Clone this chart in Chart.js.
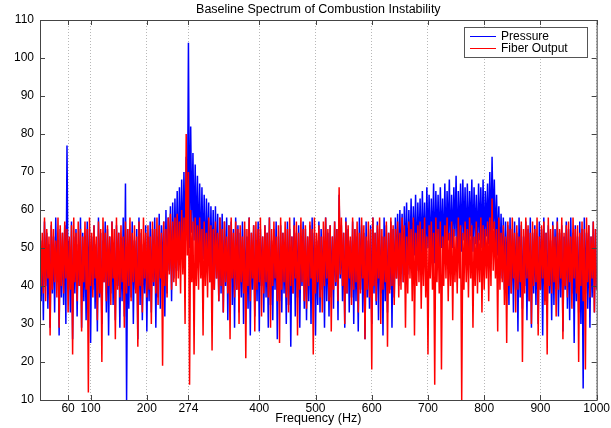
<!DOCTYPE html>
<html>
<head>
<meta charset="utf-8">
<script src="https://cdn.jsdelivr.net/npm/chart.js@4.4.1/dist/chart.umd.min.js"></script>
<style>
  html, body { margin: 0; padding: 0; background: #fff; }
  #wrap { position: relative; width: 611px; height: 428px; }
</style>
</head>
<body>
<div id="wrap"><canvas id="spectrum"></canvas></div>
<script>
// Chart data
const chartTitle = 'Baseline Spectrum of Combustion Instability';
const xLabel = 'Frequency (Hz)';
const seriesNames = ['Pressure', 'Fiber Output'];

// frequency bins: 10 Hz to 1000 Hz, every 2 Hz
const freqStart = 10;
const freqStep = 2;

const xTicks = [60, 100, 200, 274, 400, 500, 600, 700, 800, 900, 1000];
const yTicks = [10, 20, 30, 40, 50, 60, 70, 80, 90, 100, 110];

// Pressure amplitude (dB), one row = 40 Hz
const pressure = [
  55,36,52,31,57,40,54,34,51,29,56,38,53,33,58,41,52,27,55,37,
  54,35,56,30,77,39,52,33,57,26,53,38,55,32,51,40,58,29,54,36,
  52,31,57,38,55,25,53,39,56,34,51,28,58,37,54,30,52,41,57,33,
  55,27,53,38,57,35,51,31,56,40,54,29,52,36,58,32,67,10,55,34,
  53,37,57,30,52,39,55,26,58,35,54,31,51,38,56,28,53,36,57,33,
  55,40,58,29,53,37,59,34,56,41,57,32,60,38,58,44,61,36,62,42,
  63,46,65,44,66,48,68,47,70,50,74,52,104,50,82,54,75,52,72,50,
  69,48,67,45,66,47,64,43,63,46,62,41,61,44,60,39,61,42,59,36,
  58,38,59,33,57,40,58,31,56,37,57,35,55,29,58,39,56,33,54,37,
  57,30,55,38,53,34,58,27,54,39,56,32,52,36,57,28,55,40,53,33,
  56,37,54,29,58,35,52,31,55,39,57,26,53,36,56,33,54,38,51,30,
  57,35,55,24,53,38,58,32,54,37,56,29,52,40,57,34,55,31,53,36,
  56,30,58,38,54,27,52,35,57,33,55,39,53,29,58,36,54,32,56,37,
  53,34,57,40,55,31,64,42,56,36,54,29,58,38,55,33,52,37,57,30,
  55,36,53,28,58,39,56,33,54,26,57,37,52,34,56,30,58,38,54,35,
  57,31,55,38,53,27,58,36,56,33,54,39,57,29,55,37,58,42,59,40,
  60,44,59,41,61,46,62,43,60,47,63,45,61,48,64,44,62,49,63,46,
  65,48,62,45,66,50,64,47,63,49,67,46,65,51,64,48,66,50,63,47,
  67,49,65,52,68,48,64,50,66,53,69,47,65,51,67,49,68,52,66,48,
  67,50,65,53,68,49,66,51,64,48,67,52,66,50,68,49,65,53,67,51,
  70,52,74,55,68,50,64,48,61,45,59,42,58,39,57,41,56,35,58,38,
  55,33,57,39,54,28,58,37,56,34,53,40,57,31,55,36,58,29,54,38,
  56,35,53,30,57,39,55,27,58,36,54,33,56,38,52,31,57,35,55,40,
  58,32,54,37,56,28,53,39,57,34,55,31,58,38,54,25,56,36,53,33,
  57,30,55,13,58,38,54,34,56,29,53,37,57,33,55,39
];

// Fiber output amplitude (dB), same bins
const fiber = [
  56,40,54,38,58,36,55,42,53,27,57,39,55,41,52,37,58,29,56,40,
  54,38,57,42,55,33,53,39,56,22,58,41,54,36,57,40,55,28,53,41,
  57,39,55,12,58,40,54,37,56,42,53,31,57,38,55,20,58,41,54,36,
  56,40,53,35,57,42,55,26,58,39,54,37,56,41,53,29,57,38,55,40,
  58,36,54,41,56,38,53,24,57,40,55,33,58,42,54,37,56,39,53,30,
  57,41,55,38,58,35,56,42,54,19,57,40,55,37,58,43,59,39,57,41,
  58,40,59,42,57,38,60,43,58,30,80,48,70,14,60,41,57,22,58,40,
  56,39,58,42,55,27,57,40,54,37,58,41,56,23,55,39,57,42,54,36,
  58,40,55,33,57,41,53,38,56,26,58,42,54,37,57,39,55,30,56,41,
  53,38,57,21,55,40,58,36,54,42,56,28,57,39,55,41,58,32,53,38,
  56,41,54,37,58,29,55,40,57,42,53,36,56,25,58,39,54,41,57,37,
  55,33,58,40,53,38,56,42,57,27,54,39,58,41,55,36,56,34,53,40,
  57,42,55,22,58,38,54,41,56,37,53,33,57,40,58,42,55,36,56,28,
  53,39,57,41,55,36,66,43,58,40,54,30,57,38,56,42,53,35,58,39,
  55,41,57,33,54,38,58,42,56,26,53,39,57,37,55,18,58,40,54,36,
  56,42,58,30,55,39,53,41,57,24,54,38,58,40,56,35,55,42,57,37,
  54,39,58,41,56,29,53,38,57,42,55,36,58,27,54,40,56,41,57,34,
  55,40,58,37,53,22,56,42,57,39,54,14,58,41,55,38,57,18,53,40,
  56,42,58,36,54,40,57,31,55,41,53,38,58,42,56,10,54,39,57,41,
  55,37,58,42,56,29,53,40,57,38,54,41,58,33,56,39,55,42,57,36,
  58,40,63,44,57,42,55,28,58,39,54,41,56,35,53,25,57,40,55,38,
  58,42,54,33,56,39,53,41,57,20,55,38,58,42,56,36,54,30,57,40,
  55,41,58,27,53,39,56,42,57,35,54,22,58,40,55,38,56,41,53,32,
  57,39,55,42,58,26,54,40,56,37,57,41,53,34,58,42,55,38,56,20,
  54,40,57,36,55,18,58,41,56,37,53,42,57,33,55,39
];

const seriesColors = ['#0000ff', '#ff0000'];
const FONT = '"Liberation Sans", Arial, sans-serif';

function toPoints(values) {
  return values.map((v, i) => ({ x: freqStart + i * freqStep, y: v }));
}

// Frame, inward tick marks, title and boxed legend (MATLAB style)
const matlabFrame = {
  id: 'matlabFrame',
  afterDraw(chart) {
    const ctx = chart.ctx;
    const a = chart.chartArea;
    const xs = chart.scales.x, ys = chart.scales.y;
    ctx.save();
    ctx.strokeStyle = '#444';
    ctx.lineWidth = 1;
    ctx.strokeRect(a.left + 0.5, a.top + 0.5, a.right - a.left, a.bottom - a.top);

    ctx.beginPath();
    yTicks.forEach(v => {
      const y = Math.round(ys.getPixelForValue(v)) + 0.5;
      ctx.moveTo(a.left, y); ctx.lineTo(a.left + 5, y);
      ctx.moveTo(a.right, y); ctx.lineTo(a.right - 5, y);
    });
    xTicks.forEach(v => {
      const x = Math.round(xs.getPixelForValue(v)) + 0.5;
      ctx.moveTo(x, a.bottom); ctx.lineTo(x, a.bottom - 5);
      ctx.moveTo(x, a.top); ctx.lineTo(x, a.top + 5);
    });
    ctx.stroke();

    // title
    ctx.fillStyle = '#000';
    ctx.font = '12.5px ' + FONT;
    ctx.textAlign = 'center';
    ctx.textBaseline = 'middle';
    ctx.fillText(chartTitle, (a.left + a.right) / 2, 10);

    // legend box
    const lx = 464, ly = 27, lw = 123, lh = 30;
    ctx.fillStyle = '#fff';
    ctx.fillRect(lx, ly, lw, lh);
    ctx.strokeStyle = '#555';
    ctx.strokeRect(lx + 0.5, ly + 0.5, lw, lh);
    ctx.font = '12px ' + FONT;
    ctx.textAlign = 'left';
    seriesNames.forEach((name, i) => {
      const y = ly + 9 + i * 12;
      ctx.strokeStyle = seriesColors[i];
      ctx.beginPath();
      ctx.moveTo(lx + 6, y + 0.5);
      ctx.lineTo(lx + 32, y + 0.5);
      ctx.stroke();
      ctx.fillStyle = '#000';
      ctx.fillText(name, lx + 37, y + 1);
    });
    ctx.restore();
  }
};

new Chart(document.getElementById('spectrum'), {
  type: 'line',
  data: {
    datasets: [
      {
        label: seriesNames[0],
        data: toPoints(pressure),
        borderColor: seriesColors[0],
        borderWidth: 1.5,
        pointRadius: 0,
        tension: 0,
        order: 1
      },
      {
        label: seriesNames[1],
        data: toPoints(fiber),
        borderColor: seriesColors[1],
        borderWidth: 1.5,
        pointRadius: 0,
        tension: 0,
        order: 0
      }
    ]
  },
  options: {
    responsive: true,
    maintainAspectRatio: false,
    animation: false,
    events: [],
    layout: { padding: { top: 20, right: 14, left: 0, bottom: 0 } },
    plugins: {
      legend: { display: false },
      title: { display: false },
      tooltip: { enabled: false }
    },
    scales: {
      x: {
        type: 'linear',
        min: 10,
        max: 1000,
        afterBuildTicks: s => { s.ticks = xTicks.map(v => ({ value: v })); },
        afterFit: s => { s.height = 28; },
        ticks: {
          autoSkip: false,
          maxRotation: 0,
          color: '#000',
          padding: 1,
          font: { family: FONT, size: 12 },
          callback: v => String(v)
        },
        grid: { color: '#b8b8b8', lineWidth: 1, drawTicks: false },
        border: { display: false, dash: [1, 2] },
        title: {
          display: true,
          text: xLabel,
          color: '#000',
          padding: { top: 0, bottom: 2 },
          font: { family: FONT, size: 12.5 }
        }
      },
      y: {
        type: 'linear',
        min: 10,
        max: 110,
        afterBuildTicks: s => { s.ticks = yTicks.map(v => ({ value: v })); },
        afterFit: s => { s.width = 40; },
        ticks: {
          color: '#000',
          padding: 6,
          font: { family: FONT, size: 12 }
        },
        grid: { display: false, drawTicks: false },
        border: { display: false }
      }
    }
  },
  plugins: [matlabFrame]
});
</script>
</body>
</html>
